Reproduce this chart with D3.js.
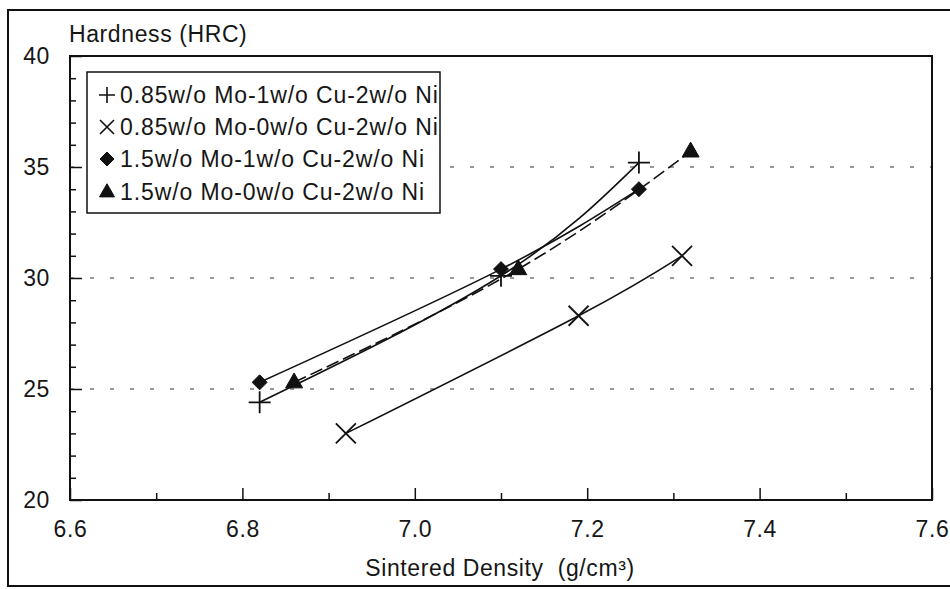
<!DOCTYPE html>
<html>
<head>
<meta charset="utf-8">
<script src="https://cdn.jsdelivr.net/npm/d3@7/dist/d3.min.js"></script>
<style>
  html, body { margin: 0; padding: 0; background: #fff; }
  svg text { font-family: "Liberation Sans", Arial, sans-serif; font-size: 23px; fill: #161616; letter-spacing: 0.6px; }
  svg .legend-label { letter-spacing: 0.9px; }
</style>
</head>
<body>
<svg id="chart" width="950" height="589"></svg>
<script>
// Hardness vs sintered density, four alloys
const seriesNames = [
  '0.85w/o Mo-1w/o Cu-2w/o Ni',
  '0.85w/o Mo-0w/o Cu-2w/o Ni',
  '1.5w/o Mo-1w/o Cu-2w/o Ni',
  '1.5w/o Mo-0w/o Cu-2w/o Ni'
];
const density1 = [6.82, 7.10, 7.26];
const hardness1 = [24.4, 30.1, 35.2];
const density2 = [6.92, 7.19, 7.31];
const hardness2 = [23.0, 28.3, 31.0];
const density3 = [6.82, 7.10, 7.26];
const hardness3 = [25.3, 30.4, 34.0];
const density4 = [6.86, 7.12, 7.32];
const hardness4 = [25.3, 30.4, 35.7];

const xTicks = [6.6, 6.8, 7.0, 7.2, 7.4, 7.6];
const xMinor = [6.7, 6.9, 7.1, 7.3, 7.5];
const yTicks = [20, 25, 30, 35, 40];
const yMinor = d3.range(21, 40).filter(v => v % 5 !== 0);
const gridValues = [25, 30, 35];

const svg = d3.select('#chart');
const plotLeft = 70, plotRight = 932, plotTop = 56, plotBottom = 500;

const x = d3.scaleLinear().domain([6.6, 7.6]).range([plotLeft, plotRight]);
const y = d3.scaleLinear().domain([20, 40]).range([plotBottom, plotTop]);

// scanned page frame
svg.append('rect')
  .attr('x', 8).attr('y', 10).attr('width', 980).attr('height', 576)
  .attr('fill', 'none').attr('stroke', '#111').attr('stroke-width', 2);

// dotted grid lines
svg.append('g').selectAll('line')
  .data(gridValues)
  .join('line')
  .attr('x1', plotLeft).attr('x2', plotRight)
  .attr('y1', d => y(d)).attr('y2', d => y(d))
  .attr('stroke', '#777').attr('stroke-width', 1.5)
  .attr('stroke-dasharray', '4,16');

// axes (ticks point inward)
svg.append('g').attr('transform', `translate(0,${plotBottom})`)
  .call(d3.axisBottom(x).tickValues(xTicks).tickSize(-12).tickPadding(21).tickFormat(d3.format('.1f')));
svg.append('g').attr('transform', `translate(0,${plotBottom})`)
  .call(d3.axisBottom(x).tickValues(xMinor).tickSize(-7).tickFormat(''));
svg.append('g').attr('transform', `translate(${plotLeft},0)`)
  .call(d3.axisLeft(y).tickValues(yTicks).tickSize(-12).tickPadding(20));
svg.append('g').attr('transform', `translate(${plotLeft},0)`)
  .call(d3.axisLeft(y).tickValues(yMinor).tickSize(-6).tickFormat(''));

svg.selectAll('.domain').remove();
svg.selectAll('.tick line').attr('stroke', '#111').attr('stroke-width', 1.5);
svg.selectAll('g[font-size]').attr('font-size', null).attr('font-family', null);
svg.selectAll('.tick text').attr('fill', '#161616');

// plot box
svg.append('rect')
  .attr('x', plotLeft).attr('y', plotTop).attr('width', plotRight - plotLeft).attr('height', plotBottom - plotTop)
  .attr('fill', 'none').attr('stroke', '#111').attr('stroke-width', 2);

// axis titles
svg.append('text').attr('x', 69).attr('y', 42).text('Hardness (HRC)');
svg.append('text').attr('x', 500).attr('y', 576).attr('text-anchor', 'middle')
  .attr('xml:space', 'preserve')
  .text('Sintered Density  (g/cm³)');

// marker shapes
const plusPath = s => `M${-s},0H${s}M0,${-s}V${s}`;
const crossPath = s => `M${-s},${-s}L${s},${s}M${-s},${s}L${s},${-s}`;
const diamondPath = s => `M0,${-s}L${s},0L0,${s}L${-s},0Z`;
const trianglePath = s => `M0,${-s * 1.1}L${s},${s * 0.65}L${-s},${s * 0.65}Z`;

const series = [
  { xs: density1, ys: hardness1, marker: plusPath, size: 11, legendSize: 8, filled: false, dash: null },
  { xs: density2, ys: hardness2, marker: crossPath, size: 10, legendSize: 7, filled: false, dash: null },
  { xs: density3, ys: hardness3, marker: diamondPath, size: 7.5, legendSize: 7, filled: true, dash: null },
  { xs: density4, ys: hardness4, marker: trianglePath, size: 8.5, legendSize: 7.5, filled: true, dash: '13,5' }
];

const line = d3.line()
  .x(d => x(d[0]))
  .y(d => y(d[1]))
  .curve(d3.curveNatural);

series.forEach(s => {
  const pts = s.xs.map((v, i) => [v, s.ys[i]]);
  svg.append('path')
    .attr('d', line(pts))
    .attr('fill', 'none').attr('stroke', '#111').attr('stroke-width', 1.6)
    .attr('stroke-dasharray', s.dash);
});

series.forEach(s => {
  const pts = s.xs.map((v, i) => [v, s.ys[i]]);
  svg.append('g').selectAll('path')
    .data(pts)
    .join('path')
    .attr('transform', d => `translate(${x(d[0])},${y(d[1])})`)
    .attr('d', s.marker(s.size))
    .attr('fill', s.filled ? '#111' : 'none')
    .attr('stroke', '#111')
    .attr('stroke-width', s.filled ? 1 : 1.8);
});

// legend
const legend = svg.append('g');
legend.append('rect')
  .attr('x', 87).attr('y', 72).attr('width', 353).attr('height', 141)
  .attr('fill', '#fff').attr('stroke', '#111').attr('stroke-width', 1.5);
const rowY = [95, 127, 159, 192];
series.forEach((s, i) => {
  legend.append('path')
    .attr('transform', `translate(107,${rowY[i]})`)
    .attr('d', s.marker(s.legendSize))
    .attr('fill', s.filled ? '#111' : 'none')
    .attr('stroke', '#111')
    .attr('stroke-width', s.filled ? 1 : 1.6);
  legend.append('text')
    .attr('class', 'legend-label')
    .attr('x', 120).attr('y', rowY[i]).attr('dy', '0.36em')
    .text(seriesNames[i]);
});
</script>
</body>
</html>
